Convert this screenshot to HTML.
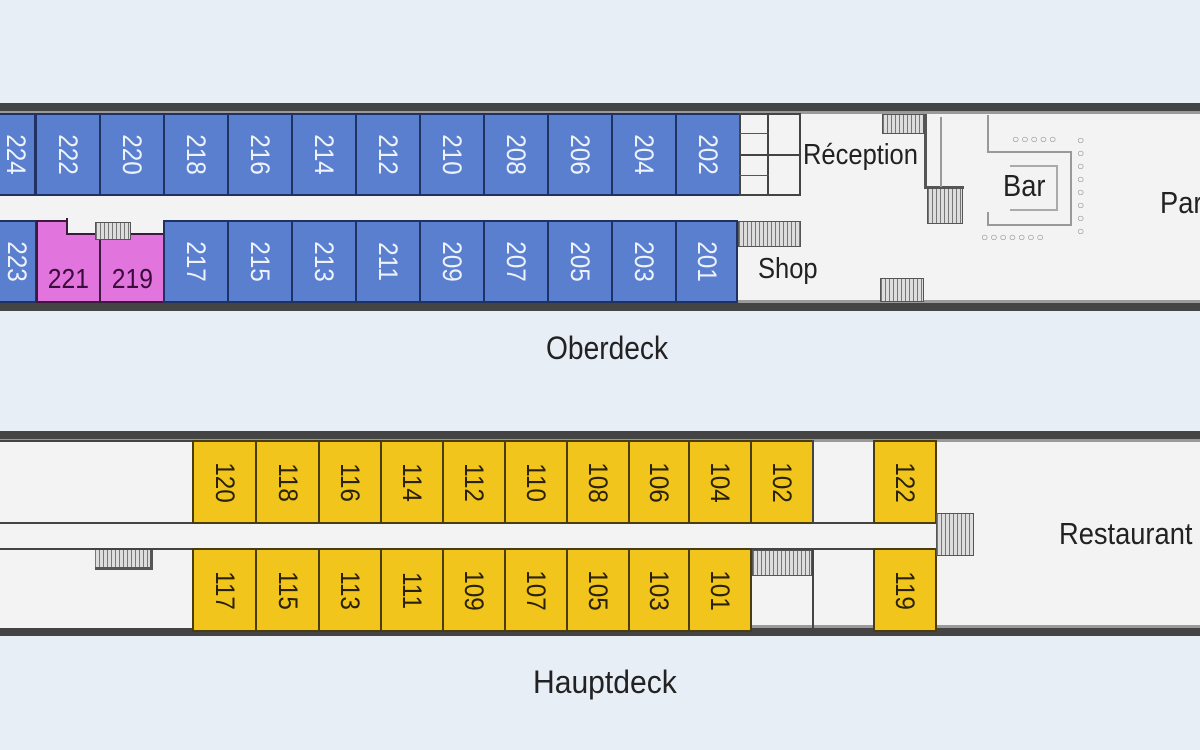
<!DOCTYPE html>
<html><head><meta charset="utf-8"><style>
*{margin:0;padding:0;box-sizing:border-box}
body{width:1200px;height:750px;background:#e8eef6;position:relative;overflow:hidden;font-family:"Liberation Sans Narrow","Liberation Sans",sans-serif}
.a{position:absolute}
.hull{position:absolute;left:-4px;width:1210px;background:#f3f3f3;border-top:8px solid #444;border-bottom:8px solid #444;box-shadow:inset 0 3px 0 #9a9a9a,inset 0 -3px 0 #9a9a9a}
.c{position:absolute;border:2px solid #1f3263;background:#5b7fcf;display:flex;align-items:center;justify-content:center}
.c span{transform:rotate(90deg) scaleX(0.9);color:#eef2fb;font-size:27px;display:block}
.y{position:absolute;border:2px solid #4a3c0c;background:#f1c51c;display:flex;align-items:center;justify-content:center}
.y span{transform:rotate(90deg) scaleX(0.9);color:#2a2208;font-size:27px;display:block}
.p{position:absolute;border:2px solid #3c1a40;background:#e174dd;display:flex;align-items:flex-end;justify-content:center;padding-bottom:6px;color:#3a0a3a;font-size:28px}
.p span{display:block;transform:scaleX(0.88)}
.w{position:absolute;border:2px solid #444;background:#f3f3f3}
.st{position:absolute;background:repeating-linear-gradient(90deg,#777 0 1px,#ddd 1px 4px);border:1px solid #555}
.lbl{position:absolute;color:#222;font-size:30px;transform-origin:0 0;transform:scaleX(0.88);white-space:nowrap}
.dots{position:absolute;color:#888;font-size:12px;letter-spacing:2px;line-height:12px}
</style></head><body>

<!-- Oberdeck -->
<div class="hull" style="top:103px;height:208px"></div>
<div class="c" style="left:-4px;top:113px;width:40px;height:83px"><span>224</span></div>
<div class="c" style="left:35px;top:113px;width:66px;height:83px"><span>222</span></div>
<div class="c" style="left:99px;top:113px;width:66px;height:83px"><span>220</span></div>
<div class="c" style="left:163px;top:113px;width:66px;height:83px"><span>218</span></div>
<div class="c" style="left:227px;top:113px;width:66px;height:83px"><span>216</span></div>
<div class="c" style="left:291px;top:113px;width:66px;height:83px"><span>214</span></div>
<div class="c" style="left:355px;top:113px;width:66px;height:83px"><span>212</span></div>
<div class="c" style="left:419px;top:113px;width:66px;height:83px"><span>210</span></div>
<div class="c" style="left:483px;top:113px;width:66px;height:83px"><span>208</span></div>
<div class="c" style="left:547px;top:113px;width:66px;height:83px"><span>206</span></div>
<div class="c" style="left:611px;top:113px;width:66px;height:83px"><span>204</span></div>
<div class="c" style="left:675px;top:113px;width:66px;height:83px"><span>202</span></div>

<div class="c" style="left:-4px;top:220px;width:41px;height:83px"><span>223</span></div>
<div class="p" style="left:36px;top:220px;width:65px;height:83px"><span>221</span></div>
<div class="p" style="left:99px;top:220px;width:66px;height:83px"><span>219</span></div>
<div class="a" style="left:66px;top:218px;width:100px;height:16px;background:#f3f3f3"></div>
<div class="a" style="left:66px;top:218px;width:2px;height:16px;background:#3c1a40"></div>
<div class="a" style="left:66px;top:233px;width:100px;height:2px;background:#3c1a40"></div>
<div class="st" style="left:95px;top:222px;width:36px;height:18px"></div>
<div class="c" style="left:163px;top:220px;width:66px;height:83px"><span>217</span></div>
<div class="c" style="left:227px;top:220px;width:66px;height:83px"><span>215</span></div>
<div class="c" style="left:291px;top:220px;width:66px;height:83px"><span>213</span></div>
<div class="c" style="left:355px;top:220px;width:66px;height:83px"><span>211</span></div>
<div class="c" style="left:419px;top:220px;width:66px;height:83px"><span>209</span></div>
<div class="c" style="left:483px;top:220px;width:66px;height:83px"><span>207</span></div>
<div class="c" style="left:547px;top:220px;width:66px;height:83px"><span>205</span></div>
<div class="c" style="left:611px;top:220px;width:66px;height:83px"><span>203</span></div>
<div class="c" style="left:675px;top:220px;width:63px;height:83px"><span>201</span></div>

<!-- reception cubicles -->
<div class="w" style="left:739px;top:113px;width:62px;height:83px;border-width:2px"></div>
<div class="a" style="left:767px;top:113px;width:2px;height:83px;background:#444"></div>
<div class="a" style="left:739px;top:154px;width:62px;height:2px;background:#444"></div>
<div class="a" style="left:739px;top:133px;width:30px;height:1px;background:#555"></div>
<div class="a" style="left:739px;top:175px;width:30px;height:1px;background:#555"></div>
<div class="lbl" style="left:803px;top:139px;font-size:29px">Réception</div>
<div class="st" style="left:738px;top:221px;width:63px;height:26px"></div>
<div class="lbl" style="left:758px;top:253px;font-size:29px">Shop</div>
<div class="st" style="left:882px;top:114px;width:42px;height:20px"></div>
<div class="a" style="left:924px;top:114px;width:3px;height:72px;background:#555"></div>
<div class="a" style="left:924px;top:186px;width:40px;height:3px;background:#555"></div>
<div class="st" style="left:927px;top:188px;width:36px;height:36px"></div>
<div class="a" style="left:940px;top:117px;width:2px;height:70px;background:#999"></div>
<div class="st" style="left:880px;top:278px;width:44px;height:24px"></div>
<!-- bar -->
<div class="a" style="left:987px;top:115px;width:2px;height:38px;background:#999"></div>
<div class="a" style="left:987px;top:151px;width:85px;height:2px;background:#999"></div>
<div class="a" style="left:1070px;top:151px;width:2px;height:75px;background:#999"></div>
<div class="a" style="left:987px;top:224px;width:85px;height:2px;background:#999"></div>
<div class="a" style="left:987px;top:212px;width:2px;height:14px;background:#999"></div>
<div class="a" style="left:1010px;top:165px;width:48px;height:46px;border:2px solid #aaa;border-left:none"></div>
<div class="lbl" style="left:1003px;top:168px;font-size:31px">Bar</div>
<div class="dots" style="left:1012px;top:133px">○○○○○</div>
<div class="dots" style="left:981px;top:231px">○○○○○○○</div>
<div class="dots" style="left:1077px;top:134px;width:12px;letter-spacing:0;line-height:13px">○<br>○<br>○<br>○<br>○<br>○<br>○<br>○</div>
<div class="lbl" style="left:1160px;top:185px;font-size:31px">Par</div>

<div class="lbl" style="left:546px;top:330px;font-size:32px">Oberdeck</div>

<!-- Hauptdeck -->
<div class="hull" style="top:431px;height:205px"></div>
<div class="w" style="left:-4px;top:440px;width:198px;height:84px"></div>
<div class="w" style="left:-4px;top:548px;width:198px;height:82px"></div>
<div class="a" style="left:-4px;top:522px;width:944px;height:28px;background:#f3f3f3;border-top:2px solid #444;border-bottom:2px solid #444"></div>
<div class="st" style="left:95px;top:550px;width:58px;height:20px;border:none;border-bottom:3px solid #555;border-right:3px solid #555"></div>

<div class="y" style="left:192px;top:440px;width:65px;height:84px"><span>120</span></div>
<div class="y" style="left:255px;top:440px;width:65px;height:84px"><span>118</span></div>
<div class="y" style="left:318px;top:440px;width:64px;height:84px"><span>116</span></div>
<div class="y" style="left:380px;top:440px;width:64px;height:84px"><span>114</span></div>
<div class="y" style="left:442px;top:440px;width:64px;height:84px"><span>112</span></div>
<div class="y" style="left:504px;top:440px;width:64px;height:84px"><span>110</span></div>
<div class="y" style="left:566px;top:440px;width:64px;height:84px"><span>108</span></div>
<div class="y" style="left:628px;top:440px;width:62px;height:84px"><span>106</span></div>
<div class="y" style="left:688px;top:440px;width:64px;height:84px"><span>104</span></div>
<div class="y" style="left:750px;top:440px;width:64px;height:84px"><span>102</span></div>
<div class="a" style="left:812px;top:440px;width:2px;height:84px;background:#444"></div>
<div class="y" style="left:873px;top:440px;width:64px;height:84px"><span>122</span></div>

<div class="y" style="left:192px;top:548px;width:65px;height:84px"><span>117</span></div>
<div class="y" style="left:255px;top:548px;width:65px;height:84px"><span>115</span></div>
<div class="y" style="left:318px;top:548px;width:64px;height:84px"><span>113</span></div>
<div class="y" style="left:380px;top:548px;width:64px;height:84px"><span>111</span></div>
<div class="y" style="left:442px;top:548px;width:64px;height:84px"><span>109</span></div>
<div class="y" style="left:504px;top:548px;width:64px;height:84px"><span>107</span></div>
<div class="y" style="left:566px;top:548px;width:64px;height:84px"><span>105</span></div>
<div class="y" style="left:628px;top:548px;width:62px;height:84px"><span>103</span></div>
<div class="y" style="left:688px;top:548px;width:64px;height:84px"><span>101</span></div>
<div class="st" style="left:752px;top:550px;width:60px;height:26px"></div>
<div class="a" style="left:812px;top:548px;width:2px;height:84px;background:#444"></div>
<div class="y" style="left:873px;top:548px;width:64px;height:84px"><span>119</span></div>
<div class="st" style="left:936px;top:513px;width:38px;height:43px"></div>
<div class="lbl" style="left:1059px;top:516px;font-size:31px">Restaurant</div>

<div class="lbl" style="left:533px;top:664px;font-size:32px;transform:scaleX(0.94)">Hauptdeck</div>
</body></html>
